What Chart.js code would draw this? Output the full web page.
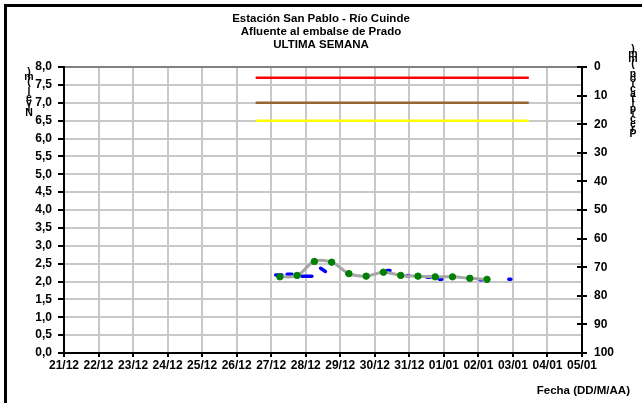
<!DOCTYPE html>
<html><head><meta charset="utf-8">
<script src="https://cdn.jsdelivr.net/npm/chart.js@4.4.0/dist/chart.umd.min.js"></script>
<style>html,body{margin:0;padding:0;background:#fff;overflow:hidden}#wrap{position:relative;width:642px;height:403px}</style>
</head><body><div id="wrap"><canvas id="c" width="642" height="403"></canvas></div>
<script>
const titleLines = ['Estación San Pablo - Río Cuinde', 'Afluente al embalse de Prado', 'ULTIMA SEMANA'];
const dateLabels = ['21/12','22/12','23/12','24/12','25/12','26/12','27/12','28/12','29/12','30/12','31/12','01/01','02/01','03/01','04/01','05/01'];
const leftTitle = 'Nivel (m)';
const rightTitle = 'Precipitación (mm)';
const xTitle = 'Fecha (DD/M/AA)';
// times in days since 21/12 00:00
const greenTimes = [6.25,6.75,7.25,7.75,8.25,8.75,9.25,9.75,10.25,10.75,11.25,11.75,12.25];
const greenLevels = [2.13,2.17,2.56,2.54,2.22,2.15,2.26,2.17,2.15,2.13,2.13,2.09,2.06];
// fragmented recorded level (null = gap)
const blueTimes = [6.13,6.31,null,6.46,6.60,null,6.89,7.18,null,7.43,7.57,null,8.19,8.29,null,9.36,9.44,null,9.93,9.99,null,10.51,10.61,null,10.87,10.94,null,12.05,12.11,null,12.88,12.94];
const blueLevels = [2.18,2.18,null,2.20,2.20,null,2.15,2.15,null,2.37,2.28,null,2.22,2.22,null,2.31,2.31,null,2.16,2.16,null,2.12,2.12,null,2.06,2.06,null,2.05,2.05,null,2.06,2.06];
const thresholdTimes = [5.55, 13.46];
const thresholdRed = 7.7, thresholdBrown = 7.0, thresholdYellow = 6.5;

const FONT = "'Liberation Sans', Arial, sans-serif";
const tickFont = {family: FONT, size: 12, weight: 'bold'};

const decor = {
  id: 'decor',
  beforeDraw(chart) {
    const ctx = chart.ctx;
    ctx.save();
    ctx.fillStyle = '#fff';
    ctx.fillRect(0, 0, chart.width, chart.height);
    ctx.fillStyle = '#000';
    ctx.fillRect(4, 4, chart.width - 4, 3);
    ctx.fillRect(4, 4, 3, chart.height - 4);
    ctx.restore();
  },
  afterDraw(chart) {
    const ctx = chart.ctx;
    ctx.save();
    ctx.fillStyle = '#000';
    ctx.textAlign = 'center';
    ctx.textBaseline = 'middle';
    ctx.font = "bold 11.5px " + FONT;
    titleLines.forEach((t, i) => ctx.fillText(t, 321, 19 + i * 13));
    ctx.textAlign = 'right';
    ctx.fillText(xTitle, 630, 391);
    // stacked axis titles (bottom to top)
    ctx.textAlign = 'center';
    ctx.font = "bold 10.5px " + FONT;
    [...leftTitle].forEach((ch, i) => ctx.fillText(ch, 29, 113 - i * 5.1));
    [...rightTitle].forEach((ch, i) => ctx.fillText(ch, 633, 134 - i * 5));
    // inner ticks on right axis
    const y2 = chart.scales.y2;
    const xr = chart.chartArea.right;
    ctx.strokeStyle = '#000';
    ctx.lineWidth = 2;
    y2.ticks.forEach(t => {
      const y = Math.round(y2.getPixelForValue(t.value));
      ctx.beginPath();
      ctx.moveTo(xr - 5, y);
      ctx.lineTo(xr, y);
      ctx.stroke();
    });
    ctx.restore();
  }
};

const pts = (xs, ys) => xs.map((x, i) => ({x: x, y: ys[i]}));
const hline = (v) => thresholdTimes.map(t => ({x: t, y: v}));

new Chart(document.getElementById('c'), {
  type: 'line',
  data: {
    datasets: [
      {data: pts(greenTimes, greenLevels), yAxisID: 'y', borderColor: '#a6a6a6', borderWidth: 3, tension: 0.4,
       pointRadius: 3.2, pointBackgroundColor: '#008000', pointBorderColor: '#008000', pointBorderWidth: 1},
      {data: pts(blueTimes, blueLevels), yAxisID: 'y', spanGaps: false, borderColor: '#0000ff', borderWidth: 3.5,
       borderCapStyle: 'round', pointRadius: 0, tension: 0},
      {data: hline(thresholdRed), yAxisID: 'y', borderColor: '#ff0000', borderWidth: 2.5, pointRadius: 0},
      {data: hline(thresholdBrown), yAxisID: 'y', borderColor: '#996633', borderWidth: 2.5, pointRadius: 0},
      {data: hline(thresholdYellow), yAxisID: 'y', borderColor: '#ffff00', borderWidth: 2.5, pointRadius: 0}
    ]
  },
  options: {
    responsive: false,
    animation: false,
    layout: {padding: {top: 67, left: 0, right: 0, bottom: 0}},
    plugins: {legend: {display: false}, tooltip: {enabled: false}, title: {display: false}},
    scales: {
      x: {
        type: 'linear', min: 0, max: 15, position: 'bottom',
        ticks: {stepSize: 1, autoSkip: false, maxRotation: 0, padding: 1, color: '#000', font: tickFont,
                callback: (v) => dateLabels[v]},
        grid: {color: '#c8c8c8', lineWidth: 2, tickLength: 4, tickColor: '#000', tickWidth: 2},
        border: {color: '#000', width: 2},
        afterFit(s) { s.height = 50; }
      },
      y: {
        position: 'left', min: 0, max: 8,
        ticks: {stepSize: 0.5, padding: 6, color: '#000', font: tickFont,
                callback: (v) => v.toFixed(1).replace('.', ',')},
        grid: {color: (c) => (c.tick && c.tick.value === 8) ? '#808080' : '#c8c8c8', lineWidth: 2,
               tickLength: 6, tickColor: '#000', tickWidth: 2},
        border: {color: '#000', width: 2},
        afterFit(s) { s.width = 64; }
      },
      y2: {
        position: 'right', min: 0, max: 100, reverse: true,
        ticks: {stepSize: 10, padding: 7, color: '#000', font: tickFont},
        grid: {drawOnChartArea: false, tickLength: 5, tickColor: '#000', tickWidth: 2, lineWidth: 2},
        border: {color: '#000', width: 2},
        afterFit(s) { s.width = 60; }
      }
    }
  },
  plugins: [decor]
});
</script>
</body></html>
